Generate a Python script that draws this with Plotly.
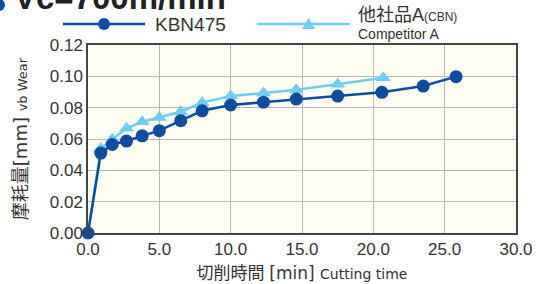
import plotly.graph_objects as go

# Data
kbn_time = [0, 0.9, 1.7, 2.7, 3.8, 5.0, 6.5, 8.0, 10.0, 12.3, 14.6, 17.5, 20.6, 23.5, 25.8]
kbn_wear = [0.000, 0.051, 0.0565, 0.0587, 0.062, 0.0653, 0.0717, 0.078, 0.0817, 0.0835, 0.0855, 0.0874, 0.0898, 0.0938, 0.0998]
comp_time = [0, 0.9, 1.7, 2.7, 3.8, 5.0, 6.5, 8.0, 10.0, 12.3, 14.6, 17.5, 20.7]
comp_wear = [0.000, 0.054, 0.0598, 0.0668, 0.071, 0.0738, 0.0774, 0.0832, 0.0874, 0.0893, 0.0914, 0.0949, 0.0991]
x_ticks = [0, 5, 10, 15, 20, 25, 30]
y_ticks = [0, 0.02, 0.04, 0.06, 0.08, 0.10, 0.12]

DARK = "#0c4da2"
LIGHT = "#6dcdf5"
FONT = "Liberation Sans, Arial, Noto Sans CJK JP, sans-serif"
CJK = "font-family:Noto Sans CJK JP"
WIDE = "font-family:DejaVu Sans"

fig = go.Figure()
fig.add_trace(go.Scatter(
    x=comp_time, y=comp_wear, mode="lines+markers", name="Competitor A",
    line=dict(color=LIGHT, width=2.5),
    marker=dict(symbol="triangle-up", size=13, color=LIGHT),
    showlegend=False, cliponaxis=False))
fig.add_trace(go.Scatter(
    x=kbn_time, y=kbn_wear, mode="lines+markers", name="KBN475",
    line=dict(color=DARK, width=2.5),
    marker=dict(symbol="circle", size=13, color=DARK),
    showlegend=False, cliponaxis=False))

fig.update_layout(
    width=542, height=284,
    margin=dict(l=88, r=26, t=45, b=51, autoexpand=False),
    paper_bgcolor="white",
    plot_bgcolor="#fdfdf2",
    font=dict(family=FONT, color="#333333", size=15),
    xaxis=dict(range=[0, 30], tickvals=x_ticks, ticktext=[f"{v:.1f}" for v in x_ticks],
               automargin=False,
               showgrid=True, gridcolor="#b8b8b8", gridwidth=1,
               showline=True, linecolor="#444444", linewidth=1.5, mirror=True,
               zeroline=False, ticks="", tickfont=dict(size=17, family=FONT),
               title=dict(text=f"<span style='{CJK}'>切削時間</span> <span style='{WIDE}'>[min] <span style='font-size:14px'>Cutting time</span></span>",
                          font=dict(size=17, family=FONT), standoff=2)),
    yaxis=dict(range=[0, 0.12], tickvals=y_ticks, ticktext=[f"{v:.2f}" for v in y_ticks],
               automargin=False,
               showgrid=True, gridcolor="#b8b8b8", gridwidth=1,
               showline=True, linecolor="#444444", linewidth=1.5, mirror=True,
               zeroline=False, ticks="", tickfont=dict(size=17, family=FONT),
               title=dict(text=f"<span style='{CJK}'>摩耗量</span><span style='{WIDE}'>[mm] <span style='font-size:13px'>vb Wear</span></span>",
                          font=dict(size=18, family=FONT), standoff=17)),
)

# pixel -> paper helpers for decorations outside plot area
def px_x(p):
    return (p - 88) / 428.0

def px_y(p):
    return 1 + (45 - p) / 188.0

# Title (partially clipped at top as in the reference)
fig.add_annotation(xref="paper", yref="paper", x=px_x(12), y=px_y(18), xanchor="left", yanchor="bottom",
                   text="<b>Vc=700m/min</b>", showarrow=False,
                   font=dict(size=33, family=FONT, color="#222222"))
fig.add_shape(type="circle", xref="paper", yref="paper",
              x0=px_x(-7), x1=px_x(5), y0=px_y(11), y1=px_y(-1), fillcolor=DARK, line=dict(width=0))

# Custom legend (decoration)
fig.add_shape(type="line", xref="paper", yref="paper", x0=px_x(63), x1=px_x(145), y0=px_y(24), y1=px_y(24),
              line=dict(color=DARK, width=2.5))
fig.add_shape(type="circle", xref="paper", yref="paper", x0=px_x(98), x1=px_x(110), y0=px_y(30), y1=px_y(18),
              fillcolor=DARK, line=dict(width=0))
fig.add_annotation(xref="paper", yref="paper", x=px_x(153), y=px_y(24), xanchor="left", yanchor="middle",
                   text="KBN475", showarrow=False, font=dict(size=19, family=FONT, color="#333333"))

fig.add_shape(type="line", xref="paper", yref="paper", x0=px_x(257), x1=px_x(350), y0=px_y(24), y1=px_y(24),
              line=dict(color=LIGHT, width=2.5))
fig.add_shape(type="path", xref="paper", yref="paper",
              path=f"M {px_x(302)} {px_y(29)} L {px_x(315)} {px_y(29)} L {px_x(308.5)} {px_y(18)} Z",
              fillcolor=LIGHT, line=dict(width=0))
fig.add_annotation(xref="paper", yref="paper", x=px_x(357), y=px_y(13), xanchor="left", yanchor="middle",
                   text=f"<span style='{CJK}'>他社品</span>A<span style='font-size:12px'>(CBN)</span>",
                   showarrow=False, borderpad=0, font=dict(size=18, family=FONT, color="#333333"))
fig.add_annotation(xref="paper", yref="paper", x=px_x(357), y=px_y(34), xanchor="left", yanchor="middle",
                   text="Competitor A", showarrow=False, borderpad=0,
                   font=dict(size=14, family=FONT, color="#333333"))

fig.write_html("out.html", config={"displayModeBar": False},
               post_script="document.body.style.margin='0';document.body.style.overflow='hidden';")
